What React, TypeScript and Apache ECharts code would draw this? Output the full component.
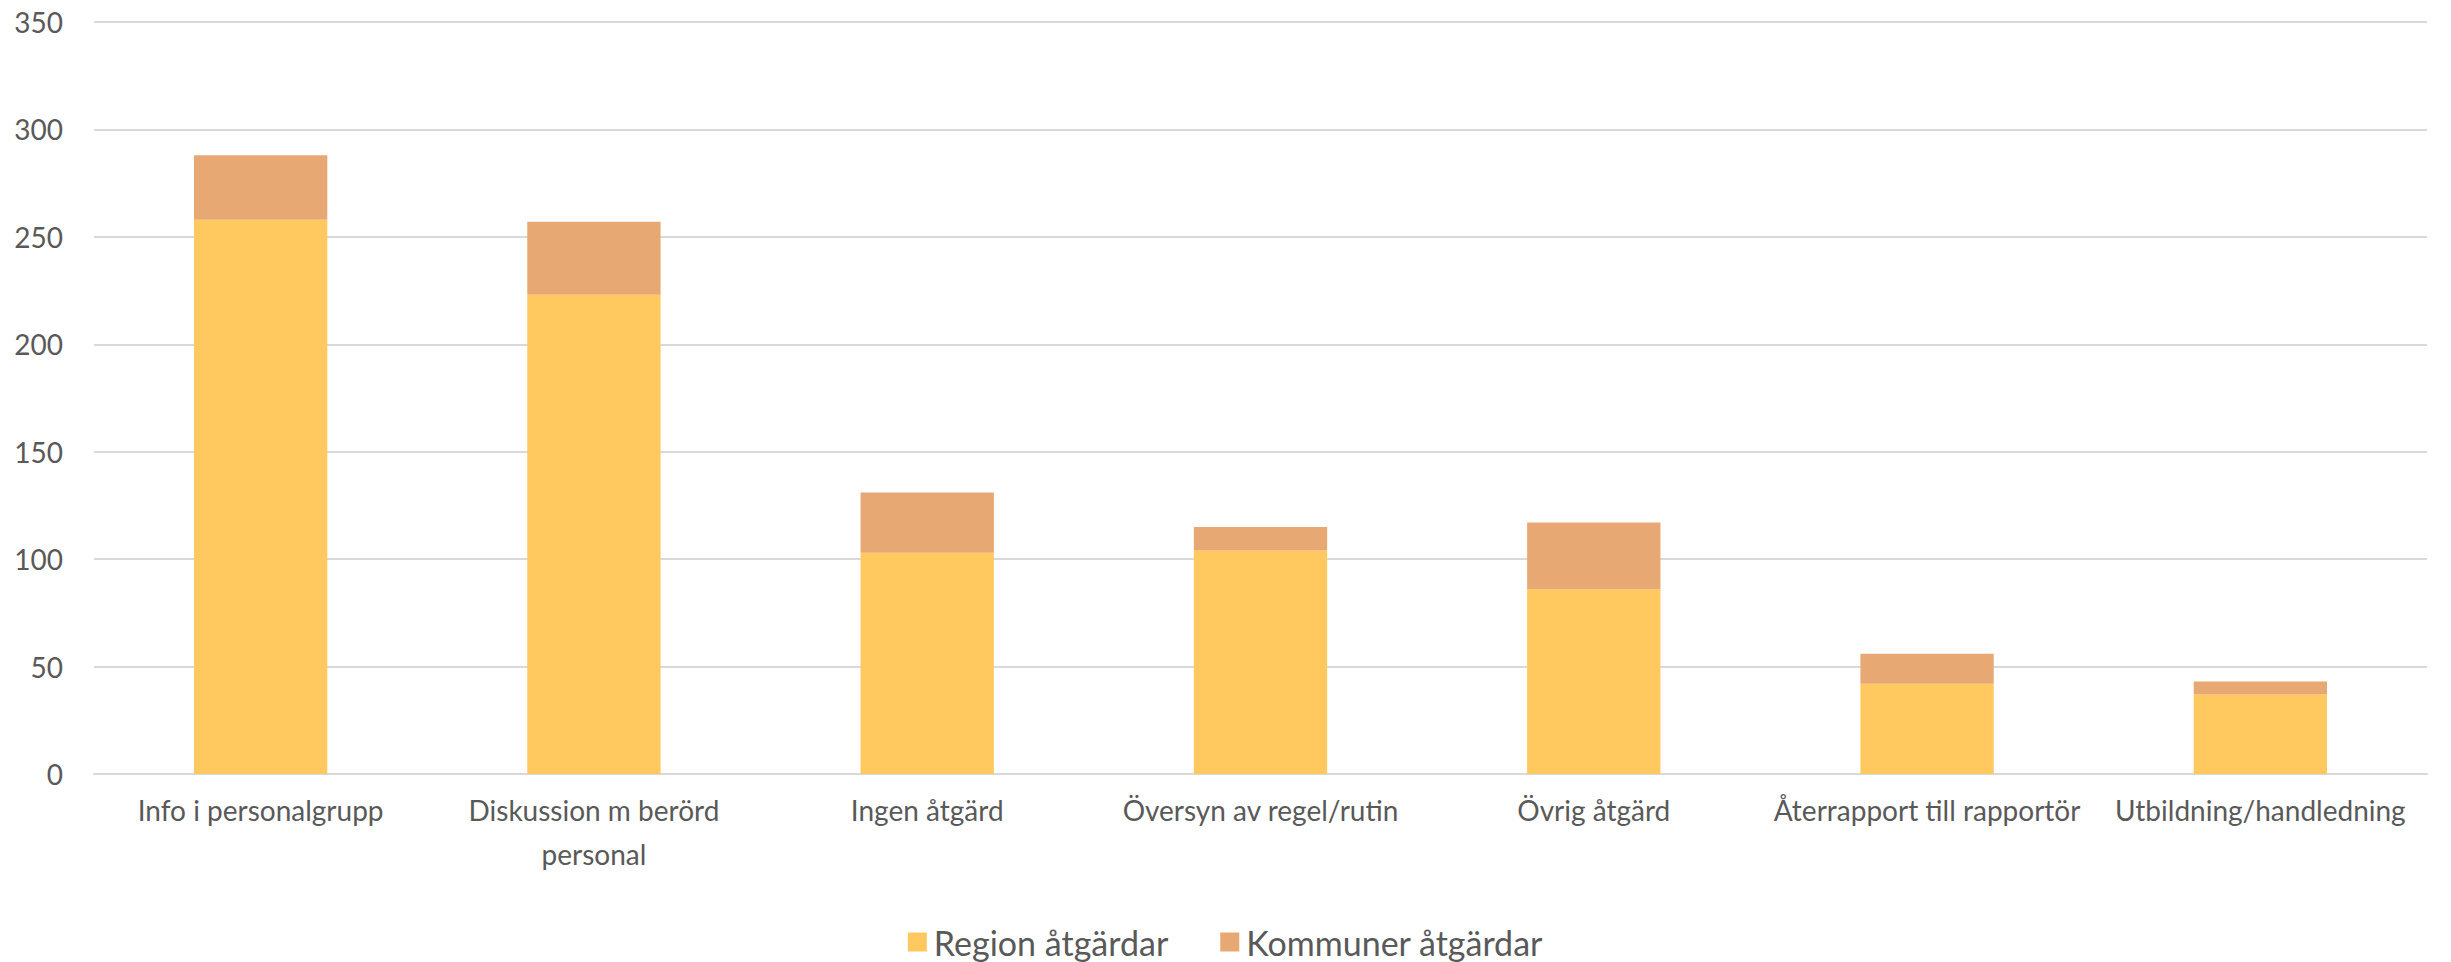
import React, { useEffect, useRef } from "react";
import * as echarts from "echarts";

const categories = [
  "Info i personalgrupp",
  "Diskussion m berörd\npersonal",
  "Ingen åtgärd",
  "Översyn av regel/rutin",
  "Övrig åtgärd",
  "Återrapport till rapportör",
  "Utbildning/handledning",
];
const regionValues = [258, 223, 103, 104, 86, 42, 37];
const kommunValues = [30, 34, 28, 11, 31, 14, 6];
const seriesNames = ["Region åtgärdar", "Kommuner åtgärdar"];

const FONT = "Lato, 'Open Sans', sans-serif";
const TEXT = "#595959";

export default function App() {
  const ref = useRef<HTMLDivElement>(null);
  useEffect(() => {
    if (!ref.current) return;
    const chart = echarts.init(ref.current, undefined, { renderer: "svg" });
    chart.setOption({
      animation: false,
      backgroundColor: "#ffffff",
      grid: { left: 94, right: 24, top: 22, bottom: 188, containLabel: false },
      legend: {
        data: seriesNames,
        left: "center",
        top: 920,
        itemWidth: 19,
        itemHeight: 19,
        itemGap: 52,
        icon: "rect",
        textStyle: { color: TEXT, fontSize: 34, fontFamily: FONT, padding: [0, 0, 0, 2] },
      },
      xAxis: {
        type: "category",
        data: categories,
        axisLine: { show: true, lineStyle: { color: "#D9D9D9", width: 2 } },
        axisTick: { show: false },
        axisLabel: {
          color: TEXT,
          fontSize: 28,
          fontFamily: FONT,
          lineHeight: 44,
          margin: 14,
          interval: 0,
        },
      },
      yAxis: {
        type: "value",
        min: 0,
        max: 350,
        interval: 50,
        axisLine: { show: false },
        axisTick: { show: false },
        splitLine: { lineStyle: { color: "#D9D9D9", width: 2 } },
        axisLabel: { color: TEXT, fontSize: 28, fontFamily: FONT, margin: 31 },
      },
      series: [
        {
          name: seriesNames[0],
          type: "bar",
          stack: "total",
          data: regionValues,
          barCategoryGap: "60%",
          itemStyle: { color: "#FFC95F" },
        },
        {
          name: seriesNames[1],
          type: "bar",
          stack: "total",
          data: kommunValues,
          barCategoryGap: "60%",
          itemStyle: { color: "#E8A873" },
        },
      ],
    });
    return () => chart.dispose();
  }, []);
  return (
    <div
      ref={ref}
      style={{ position: "fixed", left: 0, top: 0, width: 2451, height: 962 }}
    />
  );
}
